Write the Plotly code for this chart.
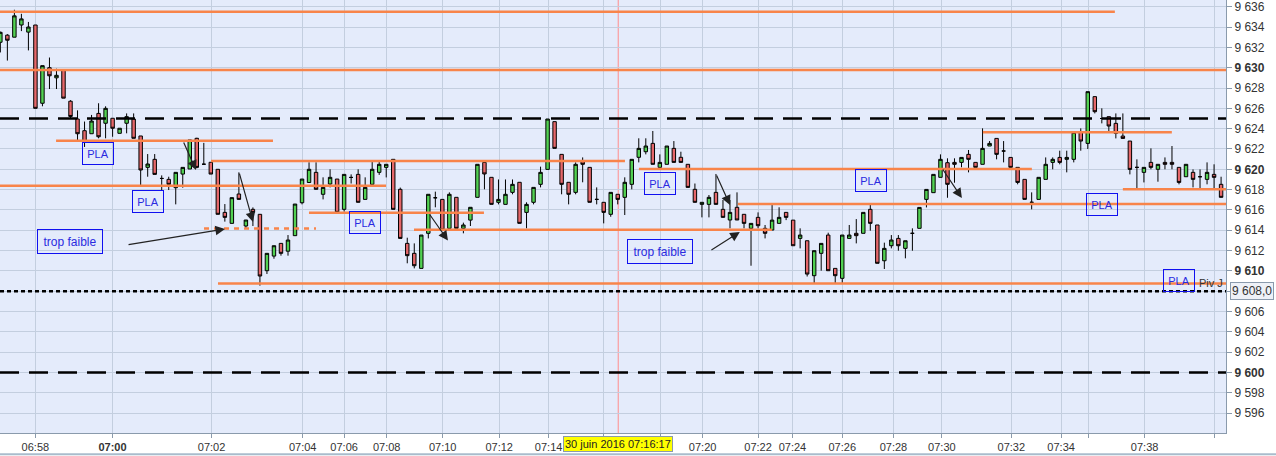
import plotly.graph_objects as go

# Bougies (une par index)
ouv = [9632.50, 9633.20, 9633.00, 9634.20, 9633.50, 9634.20, 9626.50, 9630.00, 9629.00, 9629.80,
       9626.70, 9624.95, 9623.80, 9623.50, 9625.50, 9624.53, 9625.02, 9623.54, 9624.53, 9624.95,
       9623.28, 9620.19, 9620.98, 9619.10, 9619.01, 9618.19, 9619.53, 9620.03, 9623.05, 9620.50,
       9620.69, 9620.00, 9615.76, 9614.68, 9617.57, 9614.42, 9616.06, 9615.57, 9610.02, 9611.46,
       9612.71, 9611.94, 9613.47, 9616.71, 9618.70, 9619.70, 9617.54, 9618.55, 9619.04, 9616.06,
       9619.20, 9619.50, 9617.04, 9618.52, 9619.70, 9620.19, 9620.98, 9618.03, 9612.71, 9611.73,
       9610.25, 9613.70, 9617.20, 9617.04, 9614.19, 9617.24, 9614.19, 9615.00, 9617.24, 9620.68,
       9619.21, 9616.75, 9616.55, 9617.73, 9618.72, 9615.76, 9616.75, 9618.52, 9619.99, 9624.69,
       9621.47, 9618.72, 9617.73, 9620.75, 9620.19, 9617.04, 9616.75, 9615.57, 9617.54, 9617.24,
       9618.52, 9621.18, 9621.73, 9622.55, 9620.19, 9620.49, 9622.06, 9621.18, 9620.49, 9618.03,
       9616.55, 9616.55, 9617.73, 9616.06, 9615.01, 9616.26, 9615.57, 9614.19, 9615.27, 9614.19,
       9614.02, 9614.68, 9615.76, 9615.00, 9613.20, 9612.97, 9609.53, 9611.73, 9613.53, 9610.25,
       9609.27, 9613.20, 9613.70, 9613.70, 9616.06, 9614.52, 9611.00, 9612.48, 9613.20, 9612.22,
       9613.70, 9614.19, 9617.04, 9617.70, 9619.21, 9620.65, 9620.68, 9620.68, 9621.47, 9620.68,
       9620.49, 9622.29, 9623.04, 9621.80, 9621.17, 9620.19, 9619.01, 9616.75, 9617.04, 9619.01,
       9620.68, 9621.17, 9620.98, 9620.98, 9623.63, 9622.55, 9627.15, 9625.00, 9625.18, 9624.52,
       9623.27, 9622.78, 9620.19, 9619.70, 9620.68, 9620.00, 9620.68, 9620.68, 9620.19, 9619.27,
       9619.70, 9619.27, 9619.01, 9619.50, 9618.52]
haut = [9633.55, 9633.30, 9635.70, 9635.30, 9634.50, 9634.20, 9630.20, 9631.00, 9629.90, 9629.80,
        9626.80, 9625.80, 9624.70, 9625.35, 9626.50, 9626.20, 9625.02, 9624.04, 9625.50, 9625.50,
        9623.28, 9621.50, 9621.50, 9619.40, 9619.27, 9619.70, 9620.19, 9622.89, 9623.10, 9622.60,
        9620.69, 9620.00, 9616.58, 9617.21, 9619.70, 9615.01, 9616.25, 9615.57, 9611.73, 9612.48,
        9612.71, 9613.53, 9616.58, 9619.04, 9620.69, 9620.69, 9619.21, 9620.00, 9619.04, 9619.50,
        9619.50, 9620.00, 9619.21, 9620.75, 9620.75, 9620.49, 9621.00, 9618.20, 9613.27, 9612.71,
        9613.53, 9617.54, 9617.80, 9617.04, 9617.73, 9617.24, 9614.75, 9616.26, 9620.49, 9620.68,
        9619.21, 9619.00, 9619.00, 9619.00, 9618.72, 9616.75, 9618.22, 9620.26, 9624.95, 9624.69,
        9621.47, 9618.72, 9620.68, 9621.17, 9620.19, 9618.22, 9616.75, 9617.73, 9617.54, 9619.21,
        9620.98, 9623.05, 9623.05, 9623.77, 9621.47, 9622.29, 9622.78, 9621.73, 9620.49, 9618.60,
        9616.75, 9617.47, 9619.54, 9616.98, 9616.98, 9617.73, 9615.57, 9614.68, 9615.76, 9614.52,
        9616.55, 9616.26, 9615.76, 9615.00, 9614.19, 9612.97, 9611.99, 9612.71, 9613.76, 9610.25,
        9613.53, 9614.52, 9615.10, 9615.76, 9616.49, 9614.52, 9612.78, 9613.53, 9613.53, 9612.97,
        9614.19, 9616.25, 9618.02, 9619.50, 9621.47, 9621.08, 9621.08, 9621.17, 9621.90, 9620.68,
        9624.03, 9622.78, 9623.04, 9622.78, 9621.17, 9620.19, 9619.01, 9617.73, 9619.21, 9621.17,
        9621.17, 9621.83, 9621.83, 9623.63, 9624.03, 9627.64, 9627.15, 9626.00, 9625.18, 9625.50,
        9625.50, 9622.78, 9620.98, 9620.19, 9622.06, 9620.49, 9621.17, 9622.29, 9620.19, 9620.49,
        9619.99, 9619.99, 9620.68, 9620.49, 9619.27]
bas = [9631.50, 9630.70, 9633.00, 9633.60, 9631.70, 9626.00, 9626.20, 9627.90, 9627.90, 9627.00,
       9625.00, 9622.70, 9622.20, 9623.50, 9623.05, 9623.05, 9623.20, 9623.54, 9623.54, 9623.05,
       9618.30, 9619.27, 9619.50, 9617.90, 9617.96, 9616.55, 9618.19, 9620.03, 9620.10, 9620.50,
       9619.53, 9615.57, 9614.85, 9614.68, 9617.00, 9614.20, 9614.42, 9608.55, 9609.70, 9611.20,
       9611.50, 9611.50, 9613.47, 9616.55, 9618.68, 9618.03, 9617.04, 9618.22, 9615.76, 9615.83,
       9618.60, 9616.75, 9617.04, 9618.52, 9619.45, 9619.20, 9616.06, 9613.20, 9610.75, 9610.25,
       9610.25, 9613.20, 9616.26, 9614.02, 9614.19, 9614.19, 9613.70, 9614.42, 9617.24, 9618.03,
       9616.55, 9616.55, 9616.55, 9617.54, 9614.68, 9614.19, 9616.55, 9618.22, 9619.99, 9622.06,
       9617.54, 9616.55, 9617.54, 9618.72, 9616.75, 9616.55, 9614.68, 9615.33, 9616.55, 9615.50,
       9618.03, 9620.68, 9621.47, 9620.49, 9620.19, 9620.49, 9620.68, 9620.68, 9618.22, 9616.75,
       9615.27, 9615.27, 9616.55, 9615.27, 9614.19, 9615.01, 9614.19, 9610.51, 9614.19, 9613.20,
       9614.02, 9614.68, 9615.00, 9612.48, 9612.22, 9609.45, 9608.80, 9610.02, 9610.02, 9608.80,
       9608.80, 9613.20, 9612.71, 9613.70, 9613.96, 9610.75, 9610.19, 9612.22, 9611.99, 9611.24,
       9611.99, 9614.19, 9616.25, 9617.70, 9619.21, 9617.20, 9618.68, 9620.20, 9619.70, 9620.19,
       9620.49, 9622.29, 9620.98, 9620.68, 9620.00, 9618.52, 9617.04, 9616.06, 9617.04, 9619.01,
       9620.00, 9620.49, 9619.70, 9620.68, 9621.83, 9622.00, 9625.50, 9624.52, 9623.70, 9623.04,
       9623.04, 9619.50, 9618.12, 9618.71, 9620.00, 9618.78, 9620.00, 9620.00, 9618.52, 9619.27,
       9618.22, 9618.12, 9618.52, 9618.12, 9617.24]
ferm = [9633.48, 9632.70, 9635.10, 9634.80, 9634.00, 9626.00, 9630.20, 9629.20, 9629.25, 9627.00,
        9625.20, 9623.50, 9622.70, 9624.75, 9623.20, 9626.00, 9624.04, 9624.04, 9625.18, 9623.05,
        9619.93, 9620.52, 9619.50, 9619.10, 9618.52, 9619.70, 9620.19, 9622.89, 9620.19, 9620.50,
        9619.53, 9615.57, 9615.27, 9617.21, 9617.04, 9615.01, 9615.76, 9609.50, 9611.73, 9612.48,
        9611.73, 9613.04, 9616.58, 9619.04, 9620.00, 9618.03, 9618.22, 9619.21, 9615.76, 9619.50,
        9619.20, 9616.75, 9618.22, 9620.00, 9620.49, 9620.49, 9616.06, 9613.20, 9611.50, 9610.51,
        9613.53, 9617.54, 9617.20, 9614.02, 9617.54, 9614.19, 9614.52, 9616.26, 9620.49, 9619.54,
        9616.55, 9617.04, 9617.54, 9618.52, 9614.68, 9616.55, 9618.22, 9619.70, 9624.95, 9622.06,
        9618.52, 9617.54, 9620.49, 9620.49, 9616.75, 9617.04, 9615.76, 9617.73, 9617.04, 9618.72,
        9620.98, 9622.06, 9622.29, 9620.49, 9620.68, 9622.29, 9620.68, 9620.68, 9618.22, 9616.75,
        9616.75, 9617.24, 9616.55, 9615.27, 9615.76, 9615.01, 9614.68, 9614.68, 9614.45, 9613.70,
        9615.00, 9615.27, 9615.27, 9612.48, 9613.53, 9609.69, 9611.99, 9612.71, 9610.02, 9609.53,
        9613.53, 9613.53, 9613.47, 9615.76, 9614.68, 9610.75, 9612.22, 9613.04, 9612.48, 9612.97,
        9613.70, 9616.25, 9618.02, 9619.50, 9620.98, 9618.52, 9620.49, 9621.17, 9620.98, 9620.19,
        9622.06, 9622.55, 9621.47, 9621.80, 9620.19, 9618.71, 9617.04, 9616.75, 9619.21, 9620.49,
        9620.98, 9620.68, 9621.17, 9623.63, 9622.78, 9627.64, 9625.67, 9625.00, 9624.26, 9623.54,
        9623.04, 9619.99, 9620.19, 9620.19, 9620.19, 9620.49, 9620.49, 9620.49, 9618.71, 9620.49,
        9619.01, 9619.27, 9619.70, 9619.21, 9617.24]
idx = list(range(len(ouv)))

# Axe du temps : position (en bougies) des graduations
heures_pos = [4.99, 15.99, 30.11, 43.1, 49.0, 55.07, 63.05, 71.1, 78.15, 86.03, 94.11,
              100.1, 108.0, 112.9, 120.0, 127.3, 134.2, 144.1, 151.2, 155.05, 163.1, 173.1]
heures_txt = ['06:58', '<b>07:00</b>', '07:02', '07:04', '07:06', '07:08', '07:10', '07:12',
              '07:14', '', '', '07:20', '07:22', '07:24', '07:26', '07:28', '07:30', '07:32',
              '07:34', '', '07:38', '']

prix_ticks = list(range(9596, 9637, 2))
prix_txt = []
for p in prix_ticks:
    s = f'{p // 1000} {p % 1000:03d}'
    if p == 9608:
        s = ''
    elif p % 10 == 0:
        s = f'<b>{s}</b>'
    prix_txt.append(s)

# Niveaux tracés (supports / résistances) : prix, début, fin (en bougies)
niv_prix = [9635.51, 9629.77, 9622.80, 9618.39, 9620.82, 9615.73, 9614.06, 9608.76,
            9620.03, 9616.58, 9623.64, 9618.03]
niv_debut = [-0.05, -0.05, 7.94, -0.05, 30.03, 43.99, 58.96, 31.02, 91.02, 105.13, 140.05, 160.0]
niv_fin = [158.86, 174.7, 38.86, 54.97, 89.03, 68.93, 109.98, 174.7, 147.03, 174.7, 166.98, 174.7]
niv_pointille = [9614.17, 29.03, 44.99]

pivots_tirets = [9625.0, 9600.0]
pivot_j = 9608.0

pla_x = [13.92, 21.05, 51.97, 94.01, 124.08, 157.0, 167.98]
pla_y = [9621.6, 9616.88, 9614.81, 9618.65, 9618.85, 9616.49, 9609.1]
faible_x = [9.93, 94.01]
faible_y = [9612.85, 9611.96]

# flèches : (départ x, départ y, pointe x, pointe y)
fleches = [(18.06, 9612.56, 32.02, 9614.13), (26.04, 9622.79, 27.89, 9619.93),
           (34.02, 9619.73, 36.01, 9614.81), (61.1, 9615.65, 63.8, 9612.99),
           (102.0, 9619.54, 104.0, 9616.49), (101.14, 9611.96, 105.4, 9613.83),
           (134.2, 9620.13, 137.05, 9617.18)]

curseur = 88.07
orange = '#f8844a'

fig = go.Figure(go.Candlestick(
    x=idx, open=ouv, high=haut, low=bas, close=ferm,
    increasing=dict(fillcolor='#52d152', line=dict(color='black', width=1)),
    decreasing=dict(fillcolor='#e5676a', line=dict(color='black', width=1)),
    hoverinfo='skip', showlegend=False))

shapes = []
for p, a, b in zip(niv_prix, niv_debut, niv_fin):
    shapes.append(dict(type='line', x0=a, x1=b, y0=p, y1=p, xref='x', yref='y',
                       line=dict(color=orange, width=2.5)))
shapes.append(dict(type='line', x0=niv_pointille[1], x1=niv_pointille[2],
                   y0=niv_pointille[0], y1=niv_pointille[0],
                   line=dict(color=orange, width=2.5, dash='5px,5px')))
for p in pivots_tirets:
    shapes.append(dict(type='line', x0=-0.05, x1=174.7, y0=p, y1=p,
                       line=dict(color='black', width=2.5, dash='19px,10px')))
shapes.append(dict(type='line', x0=-0.05, x1=174.7, y0=pivot_j, y1=pivot_j,
                   line=dict(color='black', width=2.5, dash='4px,3px')))
shapes.append(dict(type='line', x0=curseur, x1=curseur, y0=0, y1=1, yref='paper',
                   line=dict(color='#ff8c8c', width=1), layer='below'))
shapes.append(dict(type='line', xref='paper', yref='paper', x0=0, x1=1.05,
                   y0=-0.049, y1=-0.049, line=dict(color='#a9bccc', width=2)))

annotations = []
for x, y in zip(pla_x, pla_y):
    annotations.append(dict(x=x, y=y, text='PLA', showarrow=False, width=28, height=19,
                            font=dict(family='Liberation Sans', size=11, color='#2a2ae0'),
                            bordercolor='#1010f0', borderwidth=1))
for x, y in zip(faible_x, faible_y):
    annotations.append(dict(x=x, y=y, text='trop faible', showarrow=False, width=62, height=21,
                            font=dict(family='Liberation Sans', size=12, color='#2a2ae0'),
                            bordercolor='#1010f0', borderwidth=1))
for x0, y0, x1, y1 in fleches:
    annotations.append(dict(x=x1, y=y1, ax=x0, ay=y0, axref='x', ayref='y', text='',
                            showarrow=True, arrowhead=2, arrowsize=1.6, arrowwidth=1.2,
                            arrowcolor='#222222'))
annotations.append(dict(x=174.5, y=pivot_j, text='Piv J', showarrow=False, xanchor='right',
                        yanchor='bottom', font=dict(family='Liberation Sans', size=11, color='#333')))
annotations.append(dict(xref='paper', x=1, y=pivot_j, xanchor='left', xshift=4, text='9 608,0',
                        showarrow=False, bgcolor='#eef1f7', bordercolor='#8a9aac', borderwidth=1,
                        borderpad=1, font=dict(family='Liberation Sans', size=12, color='#333')))
annotations.append(dict(x=curseur, yref='paper', y=0, yanchor='top', yshift=-3,
                        text='30 juin 2016 07:16:17', showarrow=False, bgcolor='#ffff00',
                        bordercolor='#8a9aac', borderwidth=1, borderpad=1,
                        font=dict(family='Liberation Sans', size=11, color='#222')))

fig.update_layout(
    width=1276, height=456, margin=dict(l=0, r=50, t=0, b=23),
    paper_bgcolor='white', plot_bgcolor='#e4ebfb',
    shapes=shapes, annotations=annotations,
    xaxis=dict(range=[-0.05, 174.7], rangeslider=dict(visible=False),
               tickmode='array', tickvals=heures_pos, ticktext=heures_txt,
               showgrid=True, gridcolor='#c3cedf', gridwidth=1,
               showline=True, linecolor='#8a9aac', ticks='outside', ticklen=4,
               tickcolor='#8a9aac', tickfont=dict(family='Liberation Sans', size=11, color='#333'),
               zeroline=False),
    yaxis=dict(range=[9594.05, 9636.66], side='right', tickmode='array',
               tickvals=prix_ticks, ticktext=prix_txt, showgrid=True,
               gridcolor='#c3cedf', gridwidth=1, showline=True, linecolor='#8a9aac',
               ticks='outside', ticklen=5, tickcolor='#8a9aac', ticklabeloverflow='allow',
               tickfont=dict(family='Liberation Sans', size=12, color='#333'),
               zeroline=False),
)

# la page HTML a une marge de 8 px par défaut : on l'enlève
fig.write_html('out.html', config={'displayModeBar': False},
               post_script="document.body.style.margin='0';")
